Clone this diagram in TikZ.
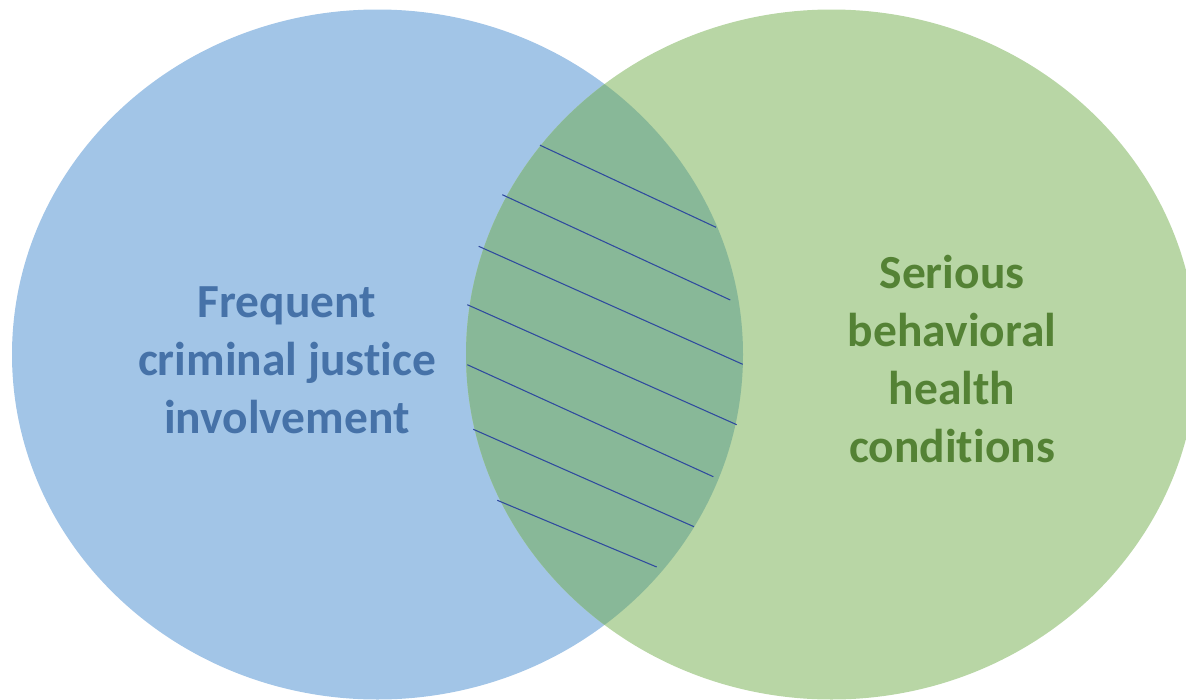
\documentclass[tikz,border=0pt]{standalone}
\usepackage{fontspec}
\setmainfont{Carlito}[Ligatures=NoCommon]
\usepackage{tikz}
\definecolor{leftblue}{HTML}{A2C5E7}
\definecolor{rightgreen}{HTML}{B8D6A5}
\definecolor{overlapgreen}{HTML}{88B898}
\definecolor{hatchblue}{HTML}{2F4A9E}
\definecolor{bluetext}{HTML}{4672A8}
\definecolor{greentext}{HTML}{548235}
\tikzset{hatch/.style={draw=hatchblue,line width=0.8pt},
    vennlabel/.style={inner sep=0.75pt,align=center,font=\bfseries\fontsize{35.6}{43.5}\selectfont}}

\begin{document}
\begin{tikzpicture}[x=0.75pt,y=0.75pt,yscale=-1,xscale=1]
\useasboundingbox (0,0) rectangle (1186,700);
\clip (0,0) rectangle (1186,700);

%Shape: Ellipse [left]
\fill [leftblue] (377.5,354.5) ellipse (365.5 and 345);
%Shape: Ellipse [right]
\fill [rightgreen] (831.5,354.5) ellipse (365.5 and 345);
%Shape: Ellipse [overlap]
\begin{scope}
\clip (377.5,354.5) ellipse (365.5 and 345);
\fill [overlapgreen] (831.5,354.5) ellipse (365.5 and 345);
\end{scope}

%Straight Lines [hatch]
\draw [hatch] (540,145.2) -- (716,227.3) ;
%Straight Lines [hatch]
\draw [hatch] (502.3,194.7) -- (730.3,300) ;
%Straight Lines [hatch]
\draw [hatch] (478.7,246.3) -- (742.7,364.3) ;
%Straight Lines [hatch]
\draw [hatch] (467.3,304.7) -- (736.7,424.7) ;
%Straight Lines [hatch]
\draw [hatch] (467.3,364.7) -- (713.3,476.7) ;
%Straight Lines [hatch]
\draw [hatch] (473.3,429.3) -- (694,526.7) ;
%Straight Lines [hatch]
\draw [hatch] (497.3,500.3) -- (656.7,567) ;

% Text Node
\draw (287,360) node (justice) [vennlabel,text=bluetext] {Frequent\\criminal justice\\involvement};
% Text Node
\draw (952,359) node (health) [vennlabel,text=greentext] {Serious\\behavioral\\health\\conditions};

\end{tikzpicture}
\end{document}
